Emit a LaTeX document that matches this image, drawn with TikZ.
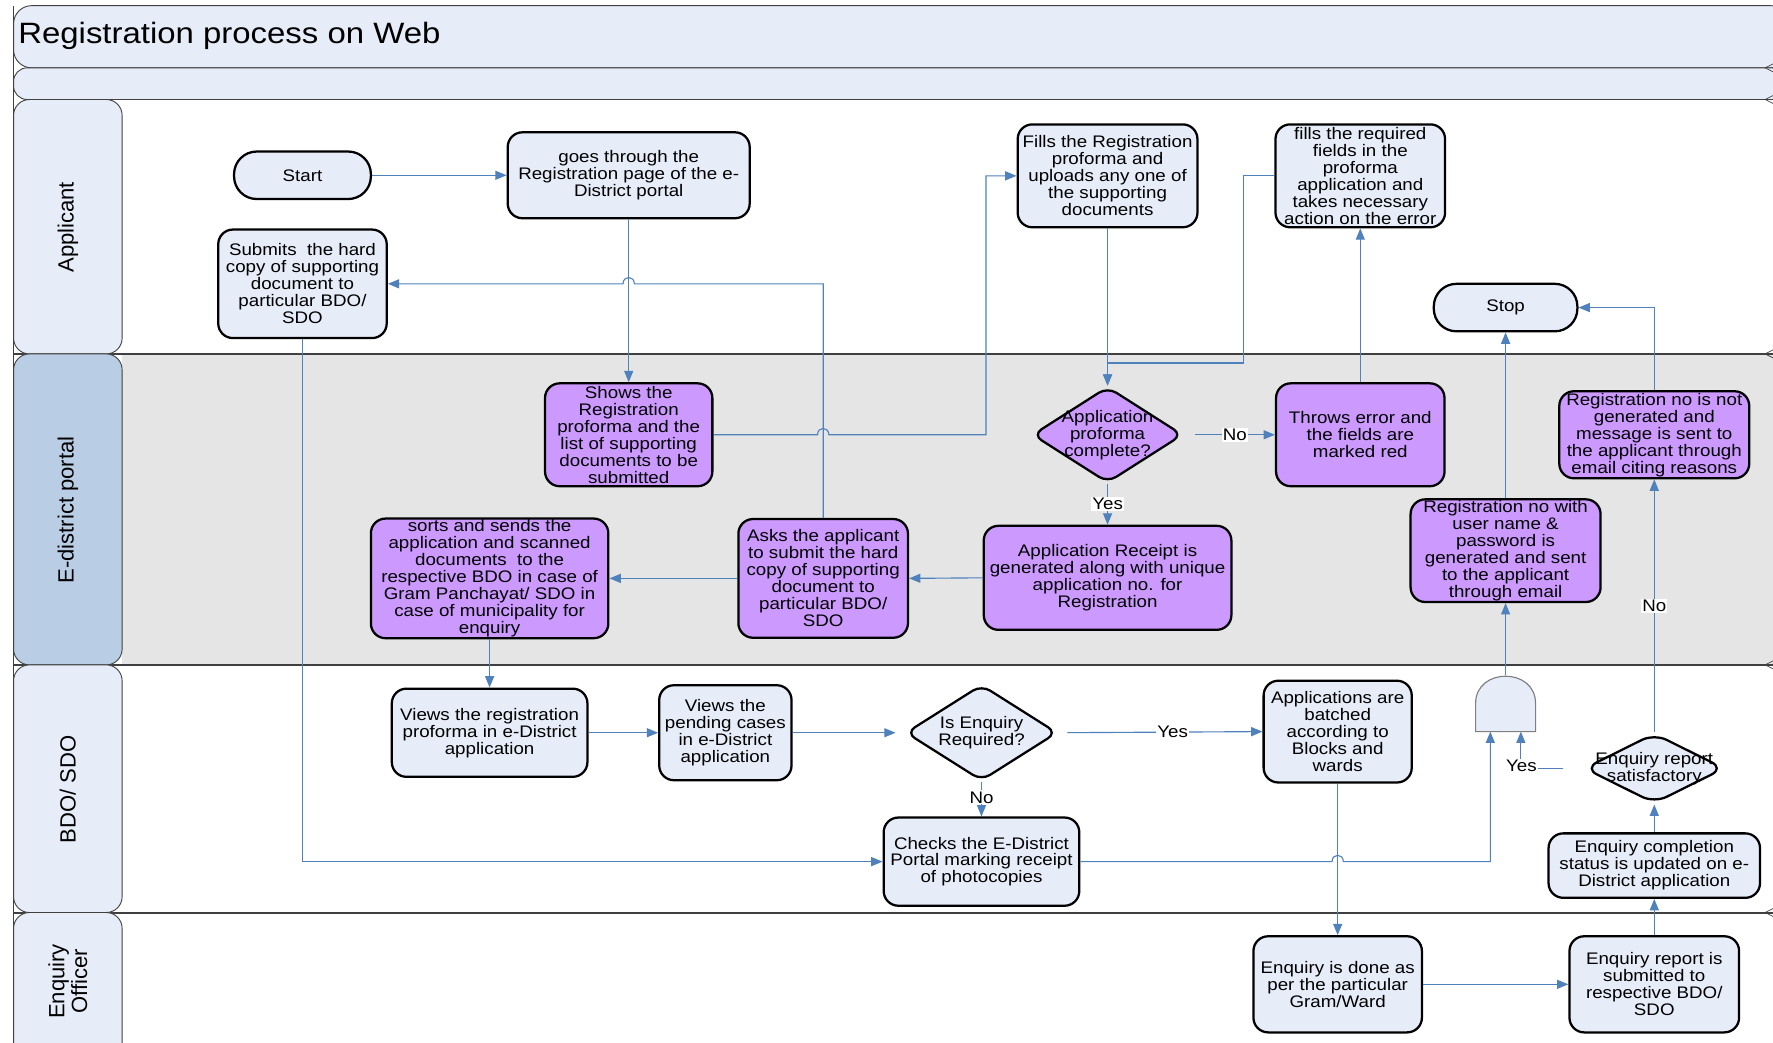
\documentclass[tikz,border=0pt]{standalone}
\usepackage{fontspec}
\setmainfont{Liberation Sans}[FakeStretch=1.12]
\newfontfamily\lanefont{Liberation Sans}
\usetikzlibrary{shapes.geometric,arrows.meta,calc}
\definecolor{flowblue}{HTML}{4F81BD}
\definecolor{boxblue}{HTML}{E6ECF8}
\definecolor{boxpurple}{HTML}{CC99FF}
\definecolor{lanegray}{HTML}{E5E5E5}
\definecolor{portalblue}{HTML}{B9CDE5}
\definecolor{laneline}{HTML}{404040}
\definecolor{gateline}{HTML}{7F7F7F}
\newcommand\bxfont{\fontsize{14.8}{15}\selectfont}

\begin{document}
\begin{tikzpicture}[x=1pt,y=-1pt,
  proc/.style={draw=black, line width=2pt, rounded corners=13pt, align=center, inner sep=1pt, font=\bxfont},
  lightbox/.style={proc, fill=boxblue},
  purplebox/.style={proc, fill=boxpurple},
  terminal/.style={lightbox, rounded corners=20pt, minimum height=42pt},
  decision/.style={diamond, draw=black, line width=2pt, rounded corners=9pt, inner sep=0pt},
  dtext/.style={align=center, font=\bxfont, inner sep=0pt},
  flow/.style={draw=flowblue, line width=1pt, -{Triangle[length=10pt,width=8pt]}},
  cond/.style={fill=white, inner sep=1pt, font=\bxfont},
  lanelabel/.style={rotate=90, align=center, font=\lanefont\fontsize{19.5}{20}\selectfont},
  lanebox/.style={draw=laneline, line width=0.8pt, rounded corners=14pt},
  sep/.style={draw=laneline, line width=1.8pt},
]
\useasboundingbox (0,0) rectangle (1568,922);

% ---------- swimlanes ----------
\begin{scope}
\clip (0,0) rectangle (1568,922);
\fill[lanegray] (108,313) rectangle (1572,588);
\draw[lanebox, fill=boxblue, rounded corners=16pt] (12,5) rectangle (1582,60);
\draw[lanebox, fill=boxblue, rounded corners=12pt] (12,60) rectangle (1582,88);
\draw[sep] (12,313) -- (1568,313);
\draw[sep] (12,588) -- (1568,588);
\draw[sep] (12,807) -- (1568,807);
\draw[lanebox, fill=boxblue] (12,88) rectangle (108,313);
\draw[lanebox, fill=portalblue] (12,313) rectangle (108,588);
\draw[lanebox, fill=boxblue] (12,588) rectangle (108,807);
\draw[lanebox, fill=boxblue] (12,807) rectangle (108,960);
\draw[draw=laneline, line width=0.6pt] (12,5) -- (12,922);
\foreach \yy in {60,88,313,588,807}
  \draw[draw=laneline, line width=0.6pt] (1569,\yy-4) -- (1561,\yy) -- (1569,\yy+4);
\end{scope}

\node[anchor=west, inner sep=0pt, font=\fontsize{26}{27}\selectfont] (title) at (16,32) {Registration process on Web};

\node[lanelabel] (lane-app) at (60,201) {Applicant};
\node[lanelabel] (lane-portal) at (60,451) {E-district portal};
\node[lanelabel] (lane-bdo) at (60,698) {BDO/ SDO};
\node[lanelabel] (lane-eo) at (60,868) {Enquiry\\Officer};

% ---------- Applicant ----------
\node[terminal, minimum width=121pt] (start) at (267.5,155) {Start};
\node[lightbox, minimum width=214pt, minimum height=76pt] (goes) at (556,155)
  {goes through the\\Registration page of the e-\\District portal};
\node[lightbox, minimum width=149pt, minimum height=96pt] (submits) at (267.5,251)
  {Submits\ \ the hard\\copy of supporting\\document to\\particular BDO/\\SDO};
\node[lightbox, minimum width=159pt, minimum height=91pt] (fills) at (979.5,155.5)
  {Fills the Registration\\proforma and\\uploads any one of\\the supporting\\documents};
\node[lightbox, minimum width=150pt, minimum height=91pt] (fillsreq) at (1203,155.5)
  {fills the required\\fields in the\\proforma\\application and\\takes necessary\\action on the error};
\node[terminal, minimum width=127pt] (stop) at (1331.5,272) {Stop};

% ---------- E-district portal ----------
\node[purplebox, minimum width=148pt, minimum height=91pt] (shows) at (556,384.5)
  {Shows the\\Registration\\proforma and the\\list of supporting\\documents to be\\submitted};
\node[decision, fill=boxpurple, minimum width=133pt, minimum height=85pt] (appdec) at (979.5,384.5) {};
\node[dtext] (appdec-t) at (appdec.center) {Application\\proforma\\complete?};
\node[purplebox, minimum width=149pt, minimum height=91pt] (throws) at (1203,384.5)
  {Throws error and\\the fields are\\marked red};
\node[purplebox, minimum width=168pt, minimum height=77pt] (regnot) at (1463,384.5)
  {Registration no is not\\generated and\\message is sent to\\the applicant through\\email citing reasons};
\node[purplebox, minimum width=210pt, minimum height=105pt] (sorts) at (433,511.5)
  {sorts and sends the\\application and scanned\\documents\ \ to the\\respective BDO in case of\\Gram Panchayat/ SDO in\\case of municipality for\\enquiry};
\node[purplebox, minimum width=150pt, minimum height=105pt] (asks) at (728,511.5)
  {Asks the applicant\\to submit the hard\\copy of supporting\\document to\\particular BDO/\\SDO};
\node[purplebox, minimum width=219pt, minimum height=92pt] (receipt) at (979.5,511)
  {Application Receipt is\\generated along with unique\\application no. for\\Registration};
\node[purplebox, minimum width=168pt, minimum height=90pt] (regwith) at (1331.5,487)
  {Registration no with\\user name \&\\password is\\generated and sent\\to the applicant\\through email};

% ---------- BDO / SDO ----------
\node[lightbox, minimum width=173pt, minimum height=78pt] (viewsreg) at (433,648)
  {Views the registration\\proforma in e-District\\application};
\node[lightbox, minimum width=117pt, minimum height=84pt] (viewspend) at (641.5,648)
  {Views the\\pending cases\\in e-District\\application};
\node[decision, fill=boxblue, minimum width=134pt, minimum height=85pt] (enqdec) at (868,648) {};
\node[dtext] (enqdec-t) at (enqdec.center) {Is Enquiry\\Required?};
\node[lightbox, minimum width=131pt, minimum height=90pt] (batched) at (1183,647)
  {Applications are\\batched\\according to\\Blocks and\\wards};
\node[minimum width=53pt, minimum height=50pt, inner sep=0pt] (gate) at (1331.5,622) {};
\draw[draw=gateline, fill=boxblue, line width=1pt]
  (1305,647) -- (1305,622) .. controls (1305,590) and (1358,590) .. (1358,622) -- (1358,647) -- cycle;
\node[decision, fill=boxblue, minimum width=124pt, minimum height=62pt, rounded corners=12pt] (satis) at (1463,679.5) {};
\node[dtext] (satis-t) at (satis.center) {Enquiry report\\satisfactory};
\node[lightbox, minimum width=173pt, minimum height=78pt] (checks) at (868,762)
  {Checks the E-District\\Portal marking receipt\\of photocopies};
\node[lightbox, minimum width=187pt, minimum height=57pt] (complete) at (1463,765.5)
  {Enquiry completion\\status is updated on e-\\District application};

% ---------- Enquiry Officer ----------
\node[lightbox, minimum width=149pt, minimum height=85pt] (enqdone) at (1183,870.5)
  {Enquiry is done as\\per the particular\\Gram/Ward};
\node[lightbox, minimum width=150pt, minimum height=85pt] (report) at (1463,870.5)
  {Enquiry report is\\submitted to\\respective BDO/\\SDO};

% ---------- connectors ----------
\draw[flow] (start.east) -- (goes.west);
\draw[flow] (goes.south) -- (shows.north);
\draw[flow] (shows.east) -- (723,384.5) .. controls (723,377) and (733,377) .. (733,384.5)
  -- (872,384.5) -- (872,155.5) -- (fills.west);
\draw[flow] (asks.north) -- (728,251) -- (561,251) .. controls (561,243.5) and (551,243.5) .. (551,251)
  -- (submits.east);
\draw[flow] (fills.south) -- (appdec.north);
\draw[flow] (fillsreq.west) -- (1100,155.5) -- (1100,321) -| (appdec.north);
\draw[flow, shorten <=10pt] (appdec.east) -- node[cond, pos=0.56] (no1) {No} (throws.west);
\draw[flow] (appdec.south) -- node[cond, pos=0.5] (yes1) {Yes} (receipt.north);
\draw[flow] (throws.north) -- (fillsreq.south);
\draw[flow] (receipt.west) -- (asks.east);
\draw[flow] (asks.west) -- (sorts.east);
\draw[flow] (sorts.south) -- (viewsreg.north);
\draw[flow] (viewsreg.east) -- (viewspend.west);
\draw[flow, shorten >=8pt] (viewspend.east) -- (enqdec.west);
\draw[flow, shorten <=8pt] (enqdec.east) -- node[cond, pos=0.56] (yes2) {Yes} (batched.west);
\draw[flow] (enqdec.south) -- node[cond, pos=0.45] (no2) {No} (checks.north);
\draw[flow] (submits.south) |- (checks.west);
\draw[flow] (checks.east) -- (1178,762) .. controls (1178,754.5) and (1188,754.5) .. (1188,762)
  -- (1318,762) -- (1318,647);
\draw[flow] (batched.south) -- (enqdone.north);
\draw[flow] (enqdone.east) -- (report.west);
\draw[flow] (report.north) -- (complete.south);
\draw[flow] (complete.north) -- (satis.south);
\draw[flow, shorten <=18pt] (satis.west) -| (1345,647);
\node[cond] (yes3) at (1345.5,677) {Yes};
\draw[flow] (satis.north) -- node[cond, pos=0.5] (no3) {No} (regnot.south);
\draw[flow] (gate.north) -- (regwith.south);
\draw[flow] (regwith.north) -- (stop.south);
\draw[flow] (regnot.north) |- (stop.east);
\end{tikzpicture}
\end{document}
